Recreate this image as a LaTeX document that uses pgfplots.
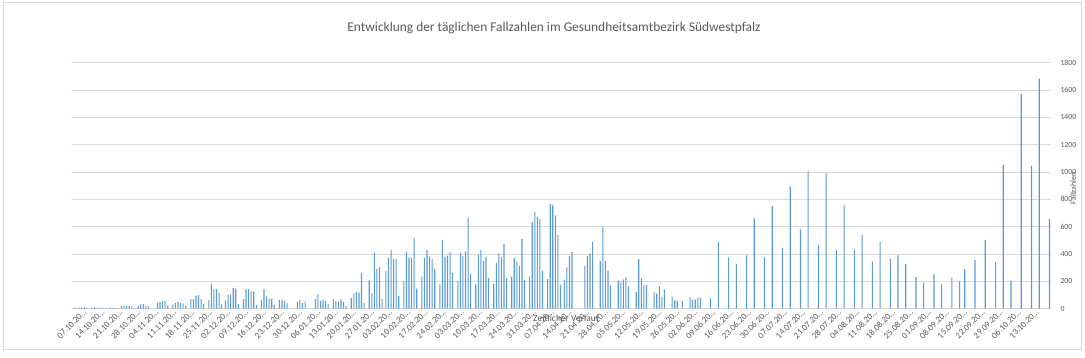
\documentclass[border=0pt]{standalone}
\usepackage{fontspec}
\setmainfont{Carlito}
\usepackage{pgfplots}
\pgfplotsset{compat=1.18}
\usepackage{pgfplotstable}
\definecolor{txtgray}{HTML}{595959}
\definecolor{gridgray}{HTML}{D9D9D9}
\definecolor{barblue}{HTML}{5B9BD5}
\pgfplotstableread{
day val
0 6
1 4
2 8
3 5
4 12
5 6
7 4
8 10
9 6
10 4
11 7
12 3
14 9
15 4
16 6
17 3
18.5 20
19.5 22
20.5 18
21.5 20
22.5 18
25 15
26 30
27 32
28 22
29 15
32.5 44
33.5 46
34.5 54
35.5 54
36.5 22
38.5 30
39.5 39
40.5 49
41.5 41
42.5 37
43.5 20
45.5 68
46.5 68
47.5 93
48.5 98
49.5 68
50.5 32
52.5 61
53.5 185
54.5 142
55.5 142
56.5 115
57.5 30
59 54
60 98
61 102
62 151
63 146
64 32
66 68
67 142
68 142
69 127
70 124
71 24
73 61
74 142
75 88
76 73
77 73
78 24
80 61
81 61
82 56
83 39
87 46
88 61
89 39
90 51
94 68
95 105
96 54
97 63
98 56
99 32
101 68
102 56
103 51
104 66
105 51
106 20
108 76
109 110
110 122
111 117
112 259
113 39
115 207
116 110
117 412
118 288
119 303
120 68
121.5 276
122.5 373
123.5 432
124.5 364
125.5 364
126.5 93
128.5 203
129.5 415
130.5 373
131.5 373
132.5 520
133.5 146
135.5 234
136.5 371
137.5 429
138.5 381
139.5 361
140.5 288
142.5 176
143.5 503
144.5 381
145.5 388
146.5 415
147.5 259
149.5 200
150.5 405
151.5 383
152.5 417
153.5 666
154.5 254
156.5 176
157.5 393
158.5 432
159.5 349
160.5 381
161.5 224
163.5 178
164.5 334
165.5 407
166.5 376
167.5 473
168.5 222
170.5 234
171.5 371
172.5 339
173.5 312
174.5 508
175.5 210
177.5 229
178.5 632
179.5 710
180.5 671
181.5 654
182.5 278
184.5 215
185.5 764
186.5 756
187.5 683
188.5 537
189.5 171
191 212
192 301
193 384
194 414
199 311
200 384
201 404
202 487
205 348
206 594
207 348
208 277
209 170
212 204
213 194
214 213
215 228
216 162
219 121
220 362
221 221
222 174
223 174
226 121
227 109
228 162
229 87
230 140
233 87
234 60
235 55
237 55
240 82
241 67
242 65
243 79
244 79
248 74
251 489
255 375
258 326
262 389
265 660
269 375
272 750
276 443
279 892
283 580
286 1009
290 466
293 991
297 429
300 759
304 434
307 539
311 344
314 490
318 364
321 390
324 327
328 229
331 190
335 251
338 176
342 227
345 200
347 288
351 354
355 503
359 339
362 1052
365 205
369 1571
373 1047
376 1684
380 656
}\datatab

\begin{document}
\begin{tikzpicture}
\path[use as bounding box] (0pt,0pt) rectangle (1085pt,-357pt);
\draw[gridgray, line width=0.8pt] (3pt,-2pt) rectangle (1081pt,-349pt);
\node[text=txtgray, font=\fontsize{13.4}{15}\selectfont] at (554pt,-28pt) {Entwicklung der täglichen Fallzahlen im Gesundheitsamtbezirk Südwestpfalz};
\begin{axis}[
  at={(72pt,-308.5pt)}, anchor=south west,
  scale only axis, width=979pt, height=245.7pt,
  xmin=-0.8, xmax=380.6, ymin=0, ymax=1800,
  ybar, bar width=1.1pt,
  axis x line*=bottom, axis y line*=right,
  axis line style={-},
  x axis line style={gridgray, line width=0.8pt},
  y axis line style={draw=none},
  major tick length=0pt,
  ytick={0,200,...,1800},
  ymajorgrids, grid style={gridgray, line width=0.8pt},
  /pgf/number format/.cd, 1000 sep={}, assume math mode=true, /pgfplots/.cd,
  yticklabel style={font=\fontsize{7.8}{9}\selectfont, text=txtgray, xshift=6pt},
  xtick={4,11,...,375},
  xticklabels={07.10.20…,14.10.20…,21.10.20…,28.10.20…,04.11.20…,11.11.20…,18.11.20…,25.11.20…,02.12.20…,09.12.20…,16.12.20…,23.12.20…,30.12.20…,06.01.20…,13.01.20…,20.01.20…,27.01.20…,03.02.20…,10.02.20…,17.02.20…,24.02.20…,03.03.20…,10.03.20…,17.03.20…,24.03.20…,31.03.20…,07.04.20…,14.04.20…,21.04.20…,28.04.20…,05.05.20…,12.05.20…,19.05.20…,26.05.20…,02.06.20…,09.06.20…,16.06.20…,23.06.20…,30.06.20…,07.07.20…,14.07.20…,21.07.20…,28.07.20…,04.08.20…,11.08.20…,18.08.20…,25.08.20…,01.09.20…,08.09.20…,15.09.20…,22.09.20…,29.09.20…,06.10.20…,13.10.20…},
  xticklabel style={rotate=45, anchor=east, font=\fontsize{8.8}{10}\selectfont, text=txtgray, inner sep=1pt, yshift=-2pt},
]
\addplot[fill=barblue, draw=none] table[x=day, y=val] {\datatab};
\end{axis}
\node[text=txtgray, font=\fontsize{9.5}{11}\selectfont] at (566pt,-318pt) {Zeitlicher Verlauf};
\node[text=txtgray, font=\fontsize{8}{10}\selectfont, rotate=90] at (1073pt,-188pt) {Fallzahlen};
\end{tikzpicture}
\end{document}
